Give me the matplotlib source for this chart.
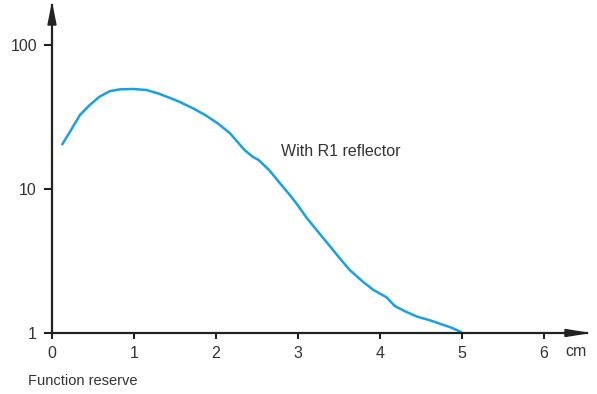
import matplotlib.pyplot as plt
from matplotlib.patches import Polygon

# curve
depth_cm = [0.12, 0.22, 0.34, 0.46, 0.58, 0.71, 0.83, 0.99, 1.15, 1.30, 1.48, 1.56, 1.72,
            1.87, 2.02, 2.17, 2.35, 2.45, 2.52, 2.65, 2.78, 2.90, 2.98, 3.11, 3.25, 3.39,
            3.51, 3.63, 3.78, 3.92, 4.02, 4.08, 4.18, 4.30, 4.45, 4.60, 4.73, 4.87, 5.0]
value = [20.2, 25.0, 32.6, 38.3, 43.8, 47.9, 49.2, 49.5, 48.7, 46.0, 42.0, 40.2, 36.3,
         32.6, 28.6, 24.4, 18.6, 16.7, 15.9, 13.5, 10.96, 9.09, 7.95, 6.26, 5.0, 4.0,
         3.3, 2.74, 2.30, 1.99, 1.85, 1.77, 1.54, 1.42, 1.30, 1.23, 1.16, 1.09, 1.01]
x_ticks = [0, 1, 2, 3, 4, 5, 6]
y_ticks = [1, 10, 100]
y_labels = ["1", "10", "100"]

plt.rcParams['font.family'] = ['Liberation Sans', 'DejaVu Sans']
ink = "#222222"

fig = plt.figure(figsize=(5.97, 3.94), dpi=100)
ax = fig.add_axes([52/597, 61/394, 535/597, 328/394])

ax.plot(depth_cm, value, color="#1a9fe0", lw=1.8, solid_capstyle="butt",
        solid_joinstyle="round")
ax.set_yscale("log")
ax.set_xlim(0, 535/82)
ax.set_ylim(1, 10**(328/144))

ax.set_xticks(x_ticks)
ax.set_xticklabels([str(t) for t in x_ticks])
ax.set_yticks(y_ticks)
ax.set_yticklabels(y_labels)
ax.minorticks_off()
ax.tick_params(axis="both", colors=ink, labelcolor="#333333", labelsize=11.5,
               width=1.5, direction="out")
ax.tick_params(axis="x", length=4.3, pad=5)
ax.tick_params(axis="y", length=5.8, pad=5)

for s in ["top", "right"]:
    ax.spines[s].set_visible(False)
for s in ["left", "bottom"]:
    ax.spines[s].set_linewidth(1.6)
    ax.spines[s].set_color(ink)

# arrow heads
ax.add_patch(Polygon([[1, 0], [1 - 22/535, 3.5/328], [1 - 22/535, -3.5/328]],
                     closed=True, transform=ax.transAxes, color=ink, clip_on=False))
ax.add_patch(Polygon([[0, 1], [4/535, 1 - 20/328], [-4/535, 1 - 20/328]],
                     closed=True, transform=ax.transAxes, color=ink, clip_on=False))

ax.text(2.79, 18.1, "With R1 reflector", fontsize=11.5, color="#333333", va="center")
fig.text(565/597, 1 - 352/394, "cm", fontsize=11.5, color="#333333", va="center")
fig.text(28/597, 1 - 381/394, "Function reserve", fontsize=10.5, color="#333333", va="center")

fig.savefig("out.png", dpi=100)
